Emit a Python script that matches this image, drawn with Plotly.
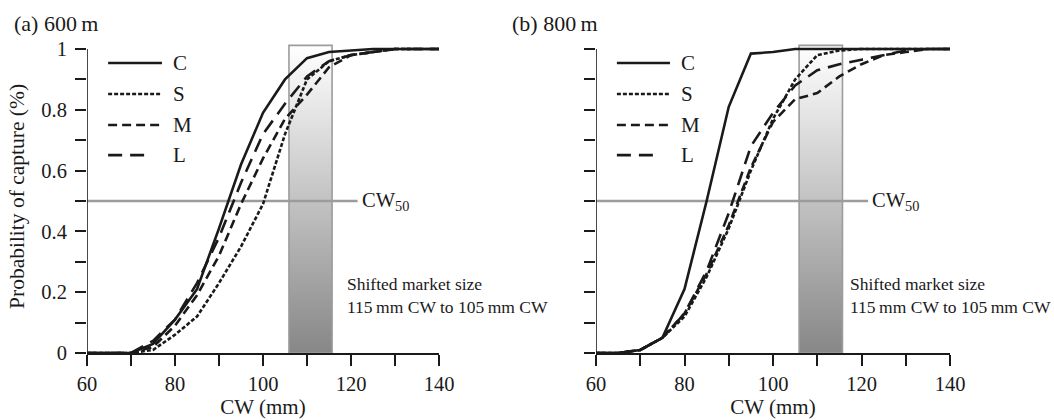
import plotly.graph_objects as go

# ---------------- data ----------------
CW = [60, 65, 70, 75, 80, 85, 90, 95, 100, 105, 110, 115, 120, 125, 130, 135, 140]

# (a) 600 m
A_C = [0, 0, 0, 0.03, 0.11, 0.21, 0.41, 0.62, 0.79, 0.90, 0.97, 0.99, 0.995, 1, 1, 1, 1]
A_S = [0, 0, 0, 0.01, 0.06, 0.12, 0.23, 0.35, 0.49, 0.72, 0.90, 0.96, 0.98, 0.99, 1, 1, 1]
A_M = [0, 0, 0, 0.02, 0.09, 0.19, 0.32, 0.49, 0.64, 0.77, 0.85, 0.94, 0.98, 0.99, 1, 1, 1]
A_L = [0, 0, 0, 0.04, 0.11, 0.23, 0.38, 0.56, 0.72, 0.82, 0.91, 0.96, 0.98, 0.99, 1, 1, 1]

# (b) 800 m
B_C = [0, 0, 0.01, 0.05, 0.21, 0.50, 0.81, 0.985, 0.99, 1, 1, 1, 1, 1, 1, 1, 1]
B_S = [0, 0, 0.01, 0.05, 0.12, 0.25, 0.41, 0.60, 0.77, 0.90, 0.98, 0.995, 1, 1, 1, 1, 1]
B_M = [0, 0, 0.01, 0.05, 0.13, 0.26, 0.42, 0.61, 0.76, 0.835, 0.855, 0.91, 0.95, 0.98, 0.99, 1, 1]
B_L = [0, 0, 0.01, 0.05, 0.13, 0.27, 0.46, 0.68, 0.79, 0.88, 0.93, 0.95, 0.965, 0.98, 0.995, 1, 1]

SERIES = ["C", "S", "M", "L"]
PANEL_TITLES = ["(a) 600\u2009m", "(b) 800\u2009m"]
MARKET_X = [105.9, 115.7]      # shifted market size band (CW, mm)
MARKET_TOP = 1.012
CW50_Y = 0.5
CW50_X = [60, 121.5]
MARKET_TEXT = "Shifted market size<br>115\u2009mm CW to 105\u2009mm CW"

# ---------------- styles ----------------
FONT = "Liberation Serif, Times New Roman, serif"
INK = "#1a1a1a"
GRAY = "#9c9c9c"
DASH = {"C": "solid", "S": "4px,2px", "M": "9px,5px", "L": "14px,8px"}
LW = 2.6

fig = go.Figure()

panels = [
    ("x", "y", {"C": A_C, "S": A_S, "M": A_M, "L": A_L}),
    ("x2", "y2", {"C": B_C, "S": B_S, "M": B_M, "L": B_L}),
]

for xa, ya, data in panels:
    # market-size band with vertical gradient
    fig.add_trace(go.Scatter(
        x=[MARKET_X[0], MARKET_X[1], MARKET_X[1], MARKET_X[0], MARKET_X[0]],
        y=[0, 0, MARKET_TOP, MARKET_TOP, 0],
        mode="lines", fill="toself",
        fillgradient=dict(type="vertical",
                          colorscale=[[0, "#878787"], [1, "#ffffff"]]),
        line=dict(color=GRAY, width=1.6),
        xaxis=xa, yaxis=ya, showlegend=False, hoverinfo="skip"))
    # CW50 line
    fig.add_trace(go.Scatter(
        x=CW50_X, y=[CW50_Y, CW50_Y], mode="lines",
        line=dict(color=GRAY, width=2.6),
        xaxis=xa, yaxis=ya, showlegend=False, hoverinfo="skip"))
    for s in SERIES:
        fig.add_trace(go.Scatter(
            x=CW, y=data[s], mode="lines", name=s,
            line=dict(color=INK, width=LW, dash=DASH[s]),
            xaxis=xa, yaxis=ya, showlegend=False))

# ---------------- layout ----------------
W, H = 1054, 420
XDOM = [[87 / W, 439 / W], [596 / W, 950 / W]]
YDOM = [(H - 353) / H, (H - 39.9) / H]
YRANGE = [0, 1.03]

axis_font = dict(family=FONT, size=20.5, color=INK)
TICKLEN = 11


def xaxis_cfg(dom, anchor):
    return dict(domain=dom, anchor=anchor, range=[60, 140],
                tickvals=[60, 80, 100, 120, 140], ticks="outside", ticklen=TICKLEN,
                tickwidth=1.6, tickcolor=INK,
                minor=dict(dtick=10, ticks="outside", ticklen=TICKLEN, tickwidth=1.6,
                           tickcolor=INK, showgrid=False),
                showline=True, linecolor=INK, linewidth=1.6,
                showgrid=False, zeroline=False, tickfont=axis_font,
                ticklabelstandoff=1,
                title=dict(text="CW (mm)", font=dict(family=FONT, size=21, color=INK),
                           standoff=2),
                automargin=False)


def yaxis_cfg(anchor, labels, title):
    d = dict(domain=YDOM, anchor=anchor, range=YRANGE,
             tickvals=[0, 0.2, 0.4, 0.6, 0.8, 1.0],
             ticktext=["0", "0.2", "0.4", "0.6", "0.8", "1"],
             ticks="outside", ticklen=TICKLEN, tickwidth=1.6, tickcolor=INK,
             minor=dict(tickvals=[0.1, 0.3, 0.5, 0.7, 0.9], ticks="outside",
                        ticklen=TICKLEN, tickwidth=1.6, tickcolor=INK, showgrid=False),
             showline=False, showgrid=False, zeroline=False,
             showticklabels=labels, tickfont=axis_font,
             ticklabelstandoff=4, automargin=False)
    if title:
        d["title"] = dict(text=title, font=dict(family=FONT, size=21.5, color=INK),
                          standoff=10)
    return d


shapes = []
annotations = []
LEG_Y = {"C": 0.954, "S": 0.852, "M": 0.75, "L": 0.651}
LEG_X0 = [0.060, 0.059]
LEG_X1 = {"C": 0.213, "S": 0.213, "M": 0.213, "L": 0.18}
LEG_TX = [0.238, 0.234]

for i, (xa, ya) in enumerate([("x", "y"), ("x2", "y2")]):
    xd = xa + " domain"
    # y axis line from 0 to 1
    shapes.append(dict(type="line", xref=xa, yref=ya, x0=60, x1=60, y0=0, y1=1,
                       line=dict(color=INK, width=1.6)))
    for s in SERIES:
        shapes.append(dict(type="line", xref=xd, yref=ya,
                           x0=LEG_X0[i], x1=LEG_X1[s] - 0.004 * i,
                           y0=LEG_Y[s], y1=LEG_Y[s],
                           line=dict(color=INK, width=LW, dash=DASH[s])))
        annotations.append(dict(xref=xd, yref=ya, x=LEG_TX[i], y=LEG_Y[s],
                                text=s, showarrow=False, xanchor="left",
                                yanchor="middle",
                                font=dict(family=FONT, size=21, color=INK)))
    annotations.append(dict(xref=xa, yref=ya, x=122.0, y=CW50_Y,
                            text="CW<sub>50</sub>", showarrow=False,
                            xanchor="left", yanchor="middle",
                            font=dict(family=FONT, size=20.5, color=INK)))
    annotations.append(dict(xref=xa, yref=ya, x=[118.6, 116.9][i], y=0.19,
                            text=MARKET_TEXT, showarrow=False, align="left",
                            xanchor="left", yanchor="middle",
                            font=dict(family=FONT, size=17.5, color=INK)))
    annotations.append(dict(xref="paper", yref="paper",
                            x=[12 / W, 510 / W][i], y=1 - 23 / H,
                            text=PANEL_TITLES[i], showarrow=False,
                            xanchor="left", yanchor="middle",
                            font=dict(family=FONT, size=22, color=INK)))

fig.update_layout(
    width=W, height=H,
    margin=dict(l=0, r=0, t=0, b=0),
    paper_bgcolor="white", plot_bgcolor="white",
    font=dict(family=FONT, color=INK),
    xaxis=xaxis_cfg(XDOM[0], "y"),
    xaxis2=xaxis_cfg(XDOM[1], "y2"),
    yaxis=yaxis_cfg("x", True, "Probability of capture (%)"),
    yaxis2=yaxis_cfg("x2", False, None),
    shapes=shapes,
    annotations=annotations,
    showlegend=False,
)

fig.write_html("out.html",
               config={"displayModeBar": False},
               post_script="document.body.style.margin='0';document.body.style.padding='0';")
